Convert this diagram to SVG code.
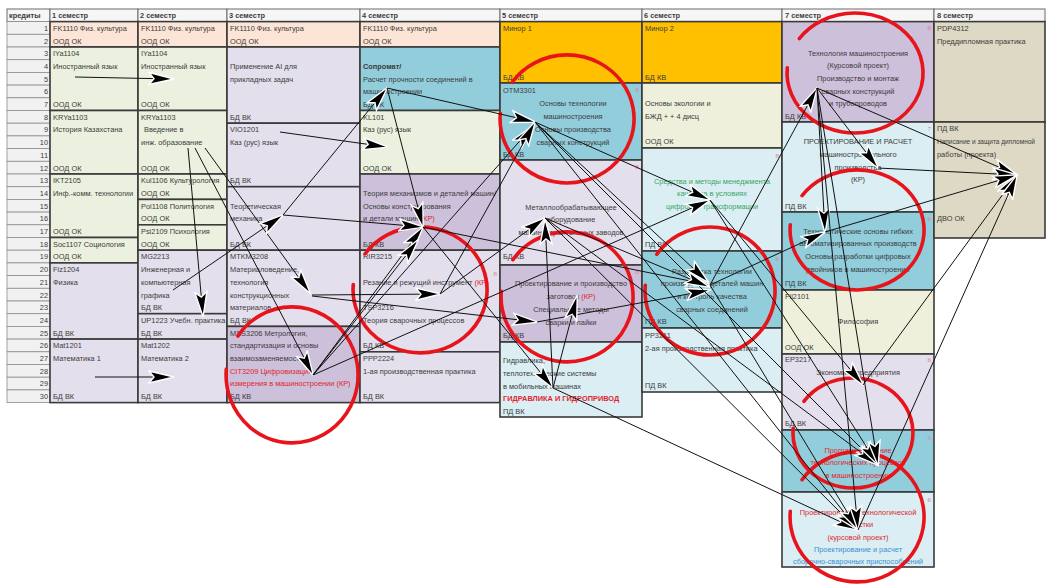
<svg xmlns="http://www.w3.org/2000/svg" width="1046" height="584" viewBox="0 0 1046 584">
<style>
.t{font-family:"Liberation Sans",Arial,sans-serif;font-size:7.4px;fill:#3c3c3c}
.c{text-anchor:middle}
.e{text-anchor:end}
.b{font-weight:bold}
.rd{fill:#e0262e}
.gr{fill:#3aa667}
.bl{fill:#3b8fd4}
.n{fill:#e87a88;font-size:7px;text-anchor:end}
.cell{stroke:#3a3a3a;stroke-width:1.6}
.kr{fill:#f1f1f1;stroke:#8e8e8e;stroke-width:0.8}
.hd{fill:#f6f6f6;stroke:#6a6a6a;stroke-width:1}
.pe{fill:#fce4d6}.gn{fill:#ebf1de}.lv{fill:#e4dfec}.pu{fill:#ccc0da}.bu{fill:#92cddc}.lb{fill:#daeef3}.or{fill:#ffc000}.tn{fill:#ddd9c4}.gy{fill:#eef0dc}
.circ{fill:none;stroke:#e8141b;stroke-width:3.6;stroke-linecap:round}
.ln{stroke:#111;stroke-width:1;fill:none;marker-end:url(#ah)}
</style>
<defs>
<marker id="ah" markerUnits="userSpaceOnUse" markerWidth="28" markerHeight="15" refX="25" refY="7.5" orient="auto" viewBox="0 0 28 15">
<path d="M1,1.5 L26,7.5 L1,13.5 L6,7.5 z" fill="#000" stroke="#fff" stroke-width="1.4"/>
</marker>
</defs>
<rect x="0" y="0" width="1046" height="584" fill="#fff"/>

<g id="header">
<rect class="hd" x="7" y="9" width="43" height="12.6"/><text class="t b" x="9" y="18">кредиты</text>
<rect class="hd" x="50" y="9" width="88" height="12.6"/><text class="t b" x="52" y="18">1 семестр</text>
<rect class="hd" x="138" y="9" width="89" height="12.6"/><text class="t b" x="140" y="18">2 семестр</text>
<rect class="hd" x="227" y="9" width="133" height="12.6"/><text class="t b" x="229" y="18">3 семестр</text>
<rect class="hd" x="360" y="9" width="140" height="12.6"/><text class="t b" x="362" y="18">4 семестр</text>
<rect class="hd" x="500" y="9" width="142" height="12.6"/><text class="t b" x="502" y="18">5 семестр</text>
<rect class="hd" x="642" y="9" width="140" height="12.6"/><text class="t b" x="644" y="18">6 семестр</text>
<rect class="hd" x="782" y="9" width="152" height="12.6"/><text class="t b" x="785" y="18">7 семестр</text>
<rect class="hd" x="934" y="9" width="111" height="12.6"/><text class="t b" x="937" y="18">8 семестр</text>
</g>

<g id="credits">
<rect class="kr" x="7" y="21.6" width="43" height="12.7"/><text class="t e" x="48" y="30.8">1</text>
<rect class="kr" x="7" y="34.3" width="43" height="12.7"/><text class="t e" x="48" y="43.5">2</text>
<rect class="kr" x="7" y="47.0" width="43" height="12.7"/><text class="t e" x="48" y="56.2">3</text>
<rect class="kr" x="7" y="59.7" width="43" height="12.7"/><text class="t e" x="48" y="68.9">4</text>
<rect class="kr" x="7" y="72.4" width="43" height="12.7"/><text class="t e" x="48" y="81.6">5</text>
<rect class="kr" x="7" y="85.1" width="43" height="12.7"/><text class="t e" x="48" y="94.3">6</text>
<rect class="kr" x="7" y="97.8" width="43" height="12.7"/><text class="t e" x="48" y="107.0">7</text>
<rect class="kr" x="7" y="110.5" width="43" height="12.7"/><text class="t e" x="48" y="119.7">8</text>
<rect class="kr" x="7" y="123.2" width="43" height="12.7"/><text class="t e" x="48" y="132.4">9</text>
<rect class="kr" x="7" y="135.9" width="43" height="12.7"/><text class="t e" x="48" y="145.1">10</text>
<rect class="kr" x="7" y="148.6" width="43" height="12.7"/><text class="t e" x="48" y="157.8">11</text>
<rect class="kr" x="7" y="161.3" width="43" height="12.7"/><text class="t e" x="48" y="170.5">12</text>
<rect class="kr" x="7" y="174.0" width="43" height="12.7"/><text class="t e" x="48" y="183.2">13</text>
<rect class="kr" x="7" y="186.7" width="43" height="12.7"/><text class="t e" x="48" y="195.9">14</text>
<rect class="kr" x="7" y="199.4" width="43" height="12.7"/><text class="t e" x="48" y="208.6">15</text>
<rect class="kr" x="7" y="212.1" width="43" height="12.7"/><text class="t e" x="48" y="221.3">16</text>
<rect class="kr" x="7" y="224.8" width="43" height="12.7"/><text class="t e" x="48" y="234.0">17</text>
<rect class="kr" x="7" y="237.5" width="43" height="12.7"/><text class="t e" x="48" y="246.7">18</text>
<rect class="kr" x="7" y="250.2" width="43" height="12.7"/><text class="t e" x="48" y="259.4">19</text>
<rect class="kr" x="7" y="262.9" width="43" height="12.7"/><text class="t e" x="48" y="272.1">20</text>
<rect class="kr" x="7" y="275.6" width="43" height="12.7"/><text class="t e" x="48" y="284.8">21</text>
<rect class="kr" x="7" y="288.3" width="43" height="12.7"/><text class="t e" x="48" y="297.5">22</text>
<rect class="kr" x="7" y="301.0" width="43" height="12.7"/><text class="t e" x="48" y="310.2">23</text>
<rect class="kr" x="7" y="313.7" width="43" height="12.7"/><text class="t e" x="48" y="322.9">24</text>
<rect class="kr" x="7" y="326.4" width="43" height="12.7"/><text class="t e" x="48" y="335.6">25</text>
<rect class="kr" x="7" y="339.1" width="43" height="12.7"/><text class="t e" x="48" y="348.3">26</text>
<rect class="kr" x="7" y="351.8" width="43" height="12.7"/><text class="t e" x="48" y="361.0">27</text>
<rect class="kr" x="7" y="364.5" width="43" height="12.7"/><text class="t e" x="48" y="373.7">28</text>
<rect class="kr" x="7" y="377.2" width="43" height="12.7"/><text class="t e" x="48" y="386.4">29</text>
<rect class="kr" x="7" y="389.9" width="43" height="12.7"/><text class="t e" x="48" y="399.1">30</text>
</g>

<g id="s1-fk"><rect class="cell pe" x="50" y="21.6" width="88" height="25.4"/><text class="t" x="53" y="30.8">FK1110 Физ. культура</text><text class="t" x="53" y="43.5">ООД ОК</text></g>
<g id="s1-iya"><rect class="cell gn" x="50" y="47" width="88" height="63.5"/><text class="t" x="53" y="56.2">IYa1104</text><text class="t" x="53" y="68.9">Иностранный язык</text><text class="t" x="53" y="107">ООД ОК</text></g>
<g id="s1-kr"><rect class="cell gn" x="50" y="110.5" width="88" height="63.5"/><text class="t" x="53" y="119.7">KRYa1103</text><text class="t" x="53" y="132.4">История Казахстана</text><text class="t" x="53" y="170.5">ООД ОК</text></g>
<g id="s1-ikt"><rect class="cell gn" x="50" y="174" width="88" height="63.5"/><text class="t" x="53" y="183.2">IKT2105</text><text class="t" x="53" y="195.9">Инф.-комм. технологии</text><text class="t" x="53" y="234">ООД ОК</text></g>
<g id="s1-soc"><rect class="cell gn" x="50" y="237.5" width="88" height="25.4"/><text class="t" x="53" y="246.7">Soc1107 Социология</text><text class="t" x="53" y="259.4">ООД ОК</text></g>
<g id="s1-fiz"><rect class="cell lv" x="50" y="262.9" width="88" height="76.2"/><text class="t" x="53" y="272.1">Fiz1204</text><text class="t" x="53" y="284.8">Физика</text><text class="t" x="53" y="335.6">БД ВК</text></g>
<g id="s1-mat"><rect class="cell lv" x="50" y="339.1" width="88" height="63.5"/><text class="t" x="53" y="348.3">Mat1201</text><text class="t" x="53" y="361">Математика 1</text><text class="t" x="53" y="399.1">БД ВК</text></g>

<g id="s2-fk"><rect class="cell pe" x="138" y="21.6" width="89" height="25.4"/><text class="t" x="141" y="30.8">FK1110 Физ. культура</text><text class="t" x="141" y="43.5">ООД ОК</text></g>
<g id="s2-iya"><rect class="cell gn" x="138" y="47" width="89" height="63.5"/><text class="t" x="141" y="56.2">IYa1104</text><text class="t" x="141" y="68.9">Иностранный язык</text><text class="t" x="141" y="107">ООД ОК</text></g>
<g id="s2-vved"><rect class="cell gn" x="138" y="110.5" width="89" height="63.5"/><text class="t" x="141" y="119.7">KRYa1103</text><text class="t" x="144" y="132.4">Введение в</text><text class="t" x="141" y="145.1">инж. образование</text><text class="t" x="141" y="170.5">ООД ОК</text></g>
<g id="s2-kul"><rect class="cell gn" x="138" y="174" width="89" height="25.4"/><text class="t" x="141" y="183.2">Kul1106 Культурология</text><text class="t" x="141" y="195.9">ООД ОК</text></g>
<g id="s2-pol"><rect class="cell gn" x="138" y="199.4" width="89" height="25.4"/><text class="t" x="141" y="208.6">Pol1108 Политология</text><text class="t" x="141" y="221.3">ООД ОК</text></g>
<g id="s2-psi"><rect class="cell gn" x="138" y="224.8" width="89" height="25.4"/><text class="t" x="141" y="234">Psi2109 Психология</text><text class="t" x="141" y="246.7">ООД ОК</text></g>
<g id="s2-mg"><rect class="cell lv" x="138" y="250.2" width="89" height="63.5"/><text class="t" x="141" y="259.4">MG2213</text><text class="t" x="141" y="272.1">Инженерная и</text><text class="t" x="141" y="284.8">компьютерная</text><text class="t" x="141" y="297.5">графика</text><text class="t" x="141" y="310.2">БД ВК</text></g>
<g id="s2-up"><rect class="cell lv" x="138" y="313.7" width="89" height="25.4"/><text class="t" x="141" y="322.9">UP1223 Учебн. практика</text><text class="t" x="141" y="335.6">БД ВК</text></g>
<g id="s2-mat"><rect class="cell lv" x="138" y="339.1" width="89" height="63.5"/><text class="t" x="141" y="348.3">Mat1202</text><text class="t" x="141" y="361">Математика 2</text><text class="t" x="141" y="399.1">БД ВК</text></g>

<g id="s3-fk"><rect class="cell pe" x="227" y="21.6" width="133" height="25.4"/><text class="t" x="230" y="30.8">FK1110 Физ. культура</text><text class="t" x="230" y="43.5">ООД ОК</text></g>
<g id="s3-ai"><rect class="cell lv" x="227" y="47" width="133" height="76.2"/><text class="t" x="230" y="68.9">Применение AI для</text><text class="t" x="230" y="81.6">прикладных задач</text><text class="t" x="230" y="119.7">БД ВК</text></g>
<g id="s3-kaz"><rect class="cell lv" x="227" y="123.2" width="133" height="63.5"/><text class="t" x="230" y="132.4">VIO1201</text><text class="t" x="230" y="145.1">Каз (рус) язык</text><text class="t" x="230" y="183.2">БД ВК</text></g>
<g id="s3-tm"><rect class="cell lv" x="227" y="186.7" width="133" height="63.5"/><text class="t" x="230" y="208.6">Теоретическая</text><text class="t" x="230" y="221.3">механика</text><text class="t" x="230" y="246.7">БД ВК</text></g>
<g id="s3-mtkm"><rect class="cell lv" x="227" y="250.2" width="133" height="76.2"/><text class="t" x="230" y="259.4">MTKM3208</text><text class="t" x="230" y="272.1">Материаловедение,</text><text class="t" x="230" y="284.8">технология</text><text class="t" x="230" y="297.5">конструкционных</text><text class="t" x="230" y="310.2">материалов</text><text class="t" x="230" y="322.9">БД ВК</text></g>
<g id="s3-mss"><rect class="cell pu" x="227" y="326.4" width="133" height="76.2"/><text class="t" x="230" y="335.6">MSS3206 Метрология,</text><text class="t" x="230" y="348.3">стандартизация и основы</text><text class="t" x="230" y="361">взаимозаменяемости</text><text class="t rd" x="230" y="373.7">CIT3209 Цифровизация</text><text class="t rd" x="230" y="386.4">измерения в машиностроении (КР)</text><text class="t" x="230" y="399.1">БД КВ</text></g>

<g id="s4-fk"><rect class="cell pe" x="360" y="21.6" width="140" height="25.4"/><text class="t" x="363" y="30.8">FK1110 Физ. культура</text><text class="t" x="363" y="43.5">ООД ОК</text></g>
<g id="s4-sop"><rect class="cell bu" x="360" y="47" width="140" height="63.5"/><text class="t b" x="363" y="68.9">Сопромат/</text><text class="t" x="363" y="81.6">Расчет прочности соединений в</text><text class="t" x="363" y="94.3">машиностроении</text><text class="t" x="363" y="107">БД ВК</text></g>
<g id="s4-kaz"><rect class="cell gn" x="360" y="110.5" width="140" height="63.5"/><text class="t" x="363" y="119.7">KL101</text><text class="t" x="363" y="132.4">Каз (рус) язык</text><text class="t" x="363" y="170.5">ООД ОК</text></g>
<g id="s4-tmm"><rect class="cell pu" x="360" y="174" width="140" height="76.2"/><text class="t" x="363" y="195.9" textLength="133" lengthAdjust="spacingAndGlyphs">Теория механизмов и деталей машин/</text><text class="t" x="363" y="208.6">Основы конструирования</text><text class="t" x="363" y="221.3">и детали машин <tspan class="rd">(КР)</tspan></text><text class="t" x="363" y="246.7">БД КВ</text></g>
<g id="s4-rir"><rect class="cell lv" x="360" y="250.2" width="140" height="101.6"/><text class="t" x="363" y="259.4">RIR3215</text><text class="t" x="363" y="284.8">Резание и режущий инструмент <tspan class="rd">(КР)</tspan></text><text class="n" x="497" y="276">8</text><text class="t" x="363" y="310.2">TSP3216</text><text class="t" x="363" y="322.9">Теория сварочных процессов</text><text class="t" x="363" y="348.3">БД КВ</text></g>
<g id="s4-ppp"><rect class="cell lv" x="360" y="351.8" width="140" height="50.8"/><text class="t" x="363" y="361">PPP2224</text><text class="t" x="363" y="373.7">1-ая производственная практика</text><text class="t" x="363" y="399.1">БД ВК</text></g>

<g id="s5-minor"><rect class="cell or" x="500" y="21.6" width="142" height="61.4"/><text class="t" x="503" y="31">Минор 1</text><text class="t" x="503" y="80">БД КВ</text></g>
<g id="s5-otm"><rect class="cell bu" x="500" y="83" width="142" height="77"/><text class="t" x="503" y="93">OTM3301</text><text class="n" x="639" y="92">8</text><text class="t c" x="573" y="106">Основы технологии</text><text class="t c" x="573" y="119">машиностроения</text><text class="t c" x="573" y="132">Основы производства</text><text class="t c" x="573" y="145">сварных конструкций</text><text class="t" x="503" y="157">БД КВ</text></g>
<g id="s5-met"><rect class="cell lv" x="500" y="160" width="142" height="105"/><text class="n" x="639" y="169">8</text><text class="t c" x="571" y="210">Металлообрабатывающее</text><text class="t c" x="571" y="222">оборудование</text><text class="t c" x="571" y="235">машиностроительных заводов</text><text class="t" x="503" y="259">БД КВ</text></g>
<g id="s5-ppz"><rect class="cell pu" x="500" y="265" width="142" height="77"/><text class="n" x="639" y="274">8</text><text class="t c" x="571" y="286">Проектирование и производство</text><text class="t c" x="571" y="299">заготовок <tspan class="rd">(КР)</tspan></text><text class="t c" x="571" y="312">Специальные методы</text><text class="t c" x="571" y="325">сварки и пайки</text><text class="t" x="503" y="338">БД КВ</text></g>
<g id="s5-gid"><rect class="cell lb" x="500" y="342" width="142" height="75"/><text class="t" x="503" y="363">Гидравлика,</text><text class="t" x="503" y="376">теплотехнические системы</text><text class="t" x="503" y="389">в мобильных машинах</text><text class="t rd b" x="503" y="401">ГИДРАВЛИКА И ГИДРОПРИВОД</text><text class="t" x="503" y="414">ПД ВК</text></g>

<g id="s6-minor"><rect class="cell or" x="642" y="21.6" width="140" height="61.4"/><text class="t" x="645" y="31">Минор 2</text><text class="t" x="645" y="80">БД КВ</text></g>
<g id="s6-eco"><rect class="cell gy" x="642" y="83" width="140" height="65"/><text class="t" x="645" y="106">Основы экологии и</text><text class="t" x="645" y="119">БЖД + + 4 дисц</text><text class="t" x="645" y="144">ООД ОК</text></g>
<g id="s6-sred"><rect class="cell lb" x="642" y="148" width="140" height="103"/><text class="n" x="779" y="158">8</text><text class="t c gr" x="712" y="184">Средства и методы менеджмента</text><text class="t c gr" x="712" y="196">качества в условиях</text><text class="t c gr" x="712" y="209">цифровой трансформации</text><text class="t" x="645" y="247">ПД ВК</text></g>
<g id="s6-razr"><rect class="cell bu" x="642" y="251" width="140" height="77"/><text class="n" x="779" y="261">6</text><text class="t c" x="712" y="274">Разработка технологии</text><text class="t c" x="712" y="286">производства деталей машин</text><text class="t c" x="712" y="299">и контроль качества</text><text class="t c" x="712" y="312">сварных соединений</text><text class="t" x="645" y="324">ПД КВ</text></g>
<g id="s6-pp"><rect class="cell lb" x="642" y="328" width="140" height="64"/><text class="t" x="645" y="338">PP3211</text><text class="t" x="645" y="351">2-ая производственная практика</text><text class="t" x="645" y="388">ПД ВК</text></g>

<g id="s7-tm"><rect class="cell pu" x="782" y="21.6" width="152" height="100.4"/><text class="n" x="931" y="30">8</text><text class="t c" x="858" y="56">Технология машиностроения</text><text class="t c" x="858" y="68">(Курсовой проект)</text><text class="t c" x="858" y="81">Производство и монтаж</text><text class="t c" x="858" y="94">сварных конструкций</text><text class="t c" x="858" y="106">и трубопроводов</text><text class="t" x="785" y="119">БД КВ</text></g>
<g id="s7-pr"><rect class="cell lb" x="782" y="122" width="152" height="90"/><text class="n" x="931" y="131">7</text><text class="t c" x="858" y="144">ПРОЕКТИРОВАНИЕ И РАСЧЕТ</text><text class="t c" x="858" y="157">машиностроительного</text><text class="t c" x="858" y="170">производства</text><text class="t c" x="858" y="182">(КР)</text><text class="t" x="785" y="209">ПД ВК</text></g>
<g id="s7-to"><rect class="cell bu" x="782" y="212" width="152" height="78"/><text class="n" x="931" y="221">6</text><text class="t c" x="858" y="234">Технологические основы гибких</text><text class="t c" x="858" y="246">автоматизированных производств</text><text class="t c" x="858" y="259">Основы разработки цифровых</text><text class="t c" x="858" y="272">двойников в машиностроении</text><text class="t" x="785" y="286">ПД ВК</text></g>
<g id="s7-fil"><rect class="cell gy" x="782" y="290" width="152" height="64"/><text class="t" x="785" y="299">Fil2101</text><text class="t c" x="858" y="324">Философия</text><text class="t" x="785" y="350">ООД ОК</text></g>
<g id="s7-ep"><rect class="cell lv" x="782" y="354" width="152" height="76"/><text class="t" x="785" y="362">EP3217</text><text class="n" x="931" y="362">6</text><text class="t c" x="858" y="375">Экономика предприятия</text><text class="t" x="785" y="426">БД ВК</text></g>
<g id="s7-pg"><rect class="cell bu" x="782" y="430" width="152" height="62"/><text class="n" x="931" y="440">5</text><text class="t c rd" x="858" y="453">Программирование</text><text class="t c rd" x="858" y="465">технологических процессов</text><text class="t c rd" x="858" y="478">в машиностроении</text></g>
<g id="s7-po"><rect class="cell lb" x="782" y="492" width="152" height="75"/><text class="n" x="931" y="502">6</text><text class="t c rd" x="858" y="515">Проектирование технологической</text><text class="t c rd" x="858" y="527">оснастки</text><text class="t c rd" x="858" y="540">(курсовой проект)</text><text class="t c bl" x="858" y="552">Проектирование и расчет</text><text class="t c bl" x="858" y="564">сборочно-сварочных приспособлений</text></g>

<g id="s8-pdp"><rect class="cell tn" x="934" y="21.6" width="111" height="100.4"/><text class="t" x="937" y="31">PDP4312</text><text class="t" x="937" y="44">Преддипломная практика</text></g>
<g id="s8-dip"><rect class="cell tn" x="934" y="122" width="111" height="116"/><text class="t" x="937" y="131">ПД ВК</text><text class="t" x="937" y="144" textLength="98" lengthAdjust="spacingAndGlyphs">Написание и защита дипломной</text><text class="t" x="937" y="157">работы (проекта)</text><text class="t" x="937" y="221">ДВО ОК</text></g>

<g id="highlights">
<path class="circ" d="M237.9,336 A66,68 0 1 1 226.3,369.1"/>
<path class="circ" d="M365.1,253.8 A67,63 0 1 1 353.3,284.5"/>
<path class="circ" d="M512.1,82.3 A67,64 0 1 1 500.3,113.4"/>
<path class="circ" d="M512.9,259.7 A66,65 0 1 1 501.3,291.3"/>
<path class="circ" d="M656.8,254.3 A65,64 0 1 1 645.3,285.4"/>
<path class="circ" d="M799.3,38.6 A68,60 0 1 1 787.3,67.8"/>
<path class="circ" d="M802.1,195.6 A67,60 0 1 1 790.3,224.8"/>
<path class="circ" d="M803.9,401.4 A60,55 0 1 1 793.2,428.2"/>
<path class="circ" d="M802.1,479.7 A67,65 0 1 1 790.3,511.3"/>
</g>

<g id="connectors">
<line class="ln" x1="75" y1="77" x2="173" y2="79"/>
<line class="ln" x1="95" y1="377" x2="173" y2="377"/>
<line class="ln" x1="188" y1="148" x2="203" y2="316"/>
<line class="ln" x1="195" y1="148" x2="313" y2="375"/>
<line class="ln" x1="205" y1="148" x2="310" y2="293"/>
<line class="ln" x1="173" y1="290" x2="283" y2="215"/>
<line class="ln" x1="283" y1="215" x2="387" y2="88"/>
<line class="ln" x1="283" y1="215" x2="423" y2="227"/>
<line class="ln" x1="280" y1="132" x2="387" y2="147"/>
<line class="ln" x1="387" y1="88" x2="423" y2="227"/>
<line class="ln" x1="387" y1="88" x2="535" y2="122"/>
<line class="ln" x1="312" y1="295" x2="440" y2="294"/>
<line class="ln" x1="312" y1="296" x2="537" y2="322"/>
<line class="ln" x1="313" y1="375" x2="423" y2="227"/>
<line class="ln" x1="313" y1="375" x2="418" y2="240"/>
<line class="ln" x1="313" y1="375" x2="533" y2="126"/>
<line class="ln" x1="313" y1="375" x2="710" y2="200"/>
<line class="ln" x1="440" y1="294" x2="545" y2="218"/>
<line class="ln" x1="440" y1="294" x2="535" y2="122"/>
<line class="ln" x1="423" y1="227" x2="710" y2="285"/>
<line class="ln" x1="423" y1="227" x2="553" y2="388"/>
<line class="ln" x1="537" y1="322" x2="710" y2="290"/>
<line class="ln" x1="553" y1="388" x2="545" y2="220"/>
<line class="ln" x1="553" y1="388" x2="577" y2="296"/>
<line class="ln" x1="553" y1="388" x2="858" y2="530"/>
<line class="ln" x1="535" y1="122" x2="710" y2="200"/>
<line class="ln" x1="535" y1="122" x2="708" y2="282"/>
<line class="ln" x1="535" y1="122" x2="878" y2="465"/>
<line class="ln" x1="535" y1="122" x2="858" y2="530"/>
<line class="ln" x1="545" y1="218" x2="709" y2="287"/>
<line class="ln" x1="545" y1="218" x2="878" y2="465"/>
<line class="ln" x1="545" y1="218" x2="858" y2="530"/>
<line class="ln" x1="710" y1="200" x2="878" y2="465"/>
<line class="ln" x1="710" y1="200" x2="863" y2="385"/>
<line class="ln" x1="710" y1="285" x2="817" y2="88"/>
<line class="ln" x1="710" y1="285" x2="825" y2="232"/>
<line class="ln" x1="710" y1="285" x2="858" y2="530"/>
<line class="ln" x1="817" y1="88" x2="825" y2="232"/>
<line class="ln" x1="817" y1="88" x2="878" y2="168"/>
<line class="ln" x1="817" y1="88" x2="1017" y2="175"/>
<line class="ln" x1="817" y1="88" x2="878" y2="465"/>
<line class="ln" x1="817" y1="88" x2="858" y2="530"/>
<line class="ln" x1="878" y1="168" x2="1017" y2="175"/>
<line class="ln" x1="825" y1="232" x2="1017" y2="175"/>
<line class="ln" x1="863" y1="385" x2="1017" y2="175"/>
<line class="ln" x1="858" y1="530" x2="1017" y2="175"/>
</g>
</svg>
